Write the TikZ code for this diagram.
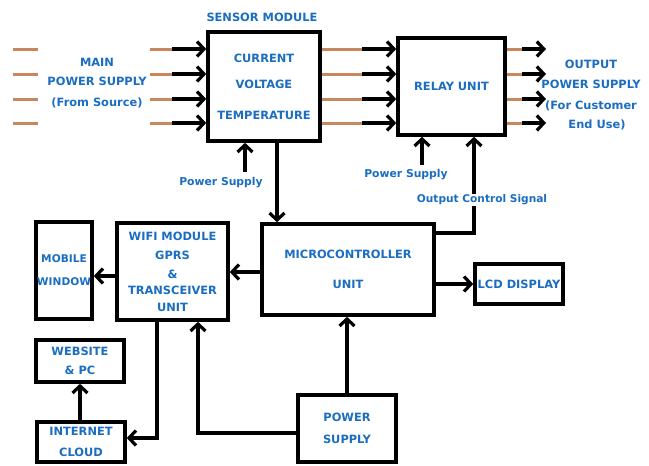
\documentclass[tikz,border=0pt]{standalone}
\usepackage{fontspec}
\setmainfont{DejaVu Sans}
\usetikzlibrary{arrows.meta,positioning,calc}
\definecolor{Copper}{HTML}{C8875F}
\definecolor{LabelBlue}{HTML}{1A6DC0}

\begin{document}
\begin{tikzpicture}[x=1pt,y=-1pt,
  box/.style={draw=black,line width=3.6pt,inner sep=1pt,align=center,text=LabelBlue,font=\fontsize{11.4}{13}\selectfont\bfseries},
  lbl/.style={align=center,text=LabelBlue,font=\fontsize{11.4}{13}\selectfont\bfseries,inner sep=1pt},
  small/.style={text=LabelBlue,font=\fontsize{10.8}{12}\selectfont\bfseries,inner sep=1pt},
  copperwire/.style={Copper,line width=3pt},
  signal/.style={-{Straight Barb[length=7pt,width=15pt]},black,line width=3.2pt}]
\useasboundingbox (0,0) rectangle (649,466);
% blocks
\node[box,minimum width=112pt,minimum height=109pt] (sensor) at (264,86.5) {CURRENT\\[13pt]VOLTAGE\\[18pt]TEMPERATURE};
\node[box,minimum width=107pt,minimum height=97pt] (relay) at (451.5,86.5) {RELAY UNIT};
\node[box,minimum width=172pt,minimum height=91pt] (mcu) at (348,269.5) {MICROCONTROLLER\\[17pt]UNIT};
\node[box,minimum width=88pt,minimum height=40pt] (lcd) at (519,284) {LCD DISPLAY};
\node[box,minimum width=111pt,minimum height=97pt] (wifi) at (172.5,271.5) {WIFI MODULE\\[6pt]GPRS\\[6pt]\&\\[3pt]TRANSCEIVER\\[4pt]UNIT};
\node[box,minimum width=56pt,minimum height=97pt,font=\fontsize{10.6}{12}\selectfont\bfseries] (mobile) at (64,270.5) {MOBILE\\[11pt]WINDOW};
\node[box,minimum width=88pt,minimum height=42pt] (web) at (80,361) {WEBSITE\\[6pt]\& PC};
\node[box,minimum width=88pt,minimum height=40pt] (cloud) at (81,442) {INTERNET\\[8pt]CLOUD};
\node[box,minimum width=98pt,minimum height=67pt] (power) at (347,428.5) {POWER\\[9pt]SUPPLY};
% outside texts
\node[lbl] (sensorlbl) at (262,17) {SENSOR MODULE};
\node[lbl] (mainlbl) at (97,83) {MAIN\\[6pt]POWER SUPPLY\\[8pt](From Source)};
\node[lbl] (outlbl) at (591,95) {OUTPUT\\[7pt]POWER SUPPLY\\[8pt](For Customer\\[6pt]\hspace*{12pt}End Use)};
\node[small] (pslbl1) at (221,183) {Power Supply};
\node[small] (pslbl2) at (406,175) {Power Supply};
% power lines
\foreach \yy [count=\i] in {49,74,99,123}{
  \draw[copperwire] (13,\yy) -- (38,\yy);
  \coordinate (in\i) at (172,\yy);
  \draw[copperwire] (150,\yy) -- (in\i);
  \draw[signal] (in\i) -- (in\i -| sensor.west);
  \coordinate (mid\i) at (362,\yy);
  \draw[copperwire] (mid\i -| sensor.east) -- (mid\i);
  \draw[signal] (mid\i) -- (mid\i -| relay.west);
  \coordinate (out\i) at (522,\yy);
  \coordinate (tip\i) at (546,\yy);
  \draw[copperwire] (out\i -| relay.east) -- (out\i);
  \draw[signal] (out\i) -- (tip\i);
}
% supply and signal arrows
\coordinate (ps1) at (245,172);
\coordinate (ps2) at (422,165);
\draw[signal] (ps1) -- (ps1 |- sensor.south);
\draw[signal] (ps2) -- (ps2 |- relay.south);
\coordinate (sm) at (277,0);
\draw[signal] (sensor.south -| sm) -- (sm |- mcu.north);
\coordinate (ctl) at (474,233);
\draw[signal] (mcu.east |- ctl) -- (ctl) -- (ctl |- relay.south);
\node[small,fill=white,font=\fontsize{10.6}{12}\selectfont\bfseries] (ctllbl) at (482,200) {Output Control Signal};
\draw[signal] (mcu.east |- lcd.west) -- (lcd.west);
\coordinate (mw) at (0,272);
\draw[signal] (mcu.west |- mw) -- (wifi.east |- mw);
\coordinate (wm) at (0,276);
\draw[signal] (wifi.west |- wm) -- (mobile.east |- wm);
\draw[signal] (power.north) -- (power.north |- mcu.south);
\coordinate (pw) at (198,433);
\draw[signal] (power.west |- pw) -- (pw) -- (pw |- wifi.south);
\coordinate (wc) at (157,438);
\draw[signal] (wifi.south -| wc) -- (wc) -- (cloud.east |- wc);
\draw[signal] (cloud.north -| web.south) -- (web.south);
\end{tikzpicture}
\end{document}
